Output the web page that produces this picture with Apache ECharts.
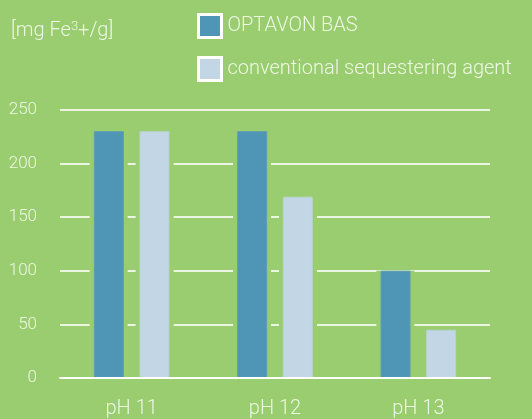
<!DOCTYPE html>
<html>
<head>
<meta charset="utf-8">
<script src="https://cdn.jsdelivr.net/npm/echarts@6/dist/echarts.min.js"></script>
<style>
  html, body { margin: 0; padding: 0; background: #9acd6f; }
  #chart { width: 532px; height: 419px; }
</style>
</head>
<body>
<div id="chart"></div>
<script>
var categories = ['pH 11', 'pH 12', 'pH 13'];
var optavon = [230, 230, 100];
var conventional = [230, 169, 45];
var yTicks = [0, 50, 100, 150, 200, 250];

var bg = '#9acd6f';
var txt = '#edf7e4';
var font = 'Roboto';

var chart = document.getElementById('chart');
var myChart = echarts.init(chart);

// wide green bars behind the real ones, they cut the split lines round each bar
function halo(data) {
  return {
    type: 'bar',
    xAxisIndex: 1,
    yAxisIndex: 0,
    data: data,
    barWidth: 38,
    barGap: '21%',
    silent: true,
    z: 3,
    itemStyle: { color: bg }
  };
}

var option = {
  backgroundColor: bg,
  animation: false,
  textStyle: { fontFamily: font },
  title: {
    text: '[mg Fe{sup|3}+/g]',
    left: 6,
    top: 15,
    textStyle: {
      color: txt,
      fontSize: 20,
      fontWeight: 300,
      fontFamily: font,
      rich: {
        sup: { fontSize: 13, verticalAlign: 'top', color: txt, padding: [0, 0, 9, 0], fontFamily: font }
      }
    }
  },
  legend: {
    orient: 'vertical',
    left: 192,
    top: 8,
    icon: 'rect',
    itemWidth: 23,
    itemHeight: 23,
    itemGap: 17,
    data: ['OPTAVON BAS', 'conventional sequestering agent'],
    itemStyle: { borderColor: '#ffffff', borderWidth: 3 },
    textStyle: { color: txt, fontSize: 20, fontWeight: 300, fontFamily: font, padding: [8, 0, 0, 1] }
  },
  grid: {
    left: 60,
    width: 430,
    top: 109.7,
    bottom: 40.3
  },
  xAxis: [{
    type: 'category',
    data: categories,
    z: 10,
    axisLine: { lineStyle: { color: '#ffffff', width: 2 } },
    axisTick: { show: false },
    axisLabel: { color: txt, fontSize: 20, fontWeight: 300, margin: 21, fontFamily: font }
  }, {
    type: 'category',
    data: categories,
    show: false
  }],
  yAxis: {
    type: 'value',
    min: yTicks[0],
    max: yTicks[yTicks.length - 1],
    interval: 50,
    z: 0,
    axisLine: { show: false },
    axisTick: { show: false },
    axisLabel: { color: txt, fontSize: 17, fontWeight: 300, margin: 23, fontFamily: font },
    splitLine: { lineStyle: { color: 'rgba(255,255,255,0.8)', width: 2 } }
  },
  series: [
    halo(optavon),
    halo(conventional),
    {
      name: 'OPTAVON BAS',
      type: 'bar',
      xAxisIndex: 0,
      data: optavon,
      barWidth: 30,
      barGap: '52%',
      z: 4,
      itemStyle: { color: '#4f95b5', borderColor: '#5c9fb3', borderWidth: 1 }
    },
    {
      name: 'conventional sequestering agent',
      type: 'bar',
      xAxisIndex: 0,
      data: conventional,
      barWidth: 30,
      barGap: '52%',
      z: 4,
      itemStyle: { color: '#c3d6e5', borderColor: '#b6d4c8', borderWidth: 1 }
    }
  ]
};

myChart.setOption(option);
</script>
</body>
</html>
